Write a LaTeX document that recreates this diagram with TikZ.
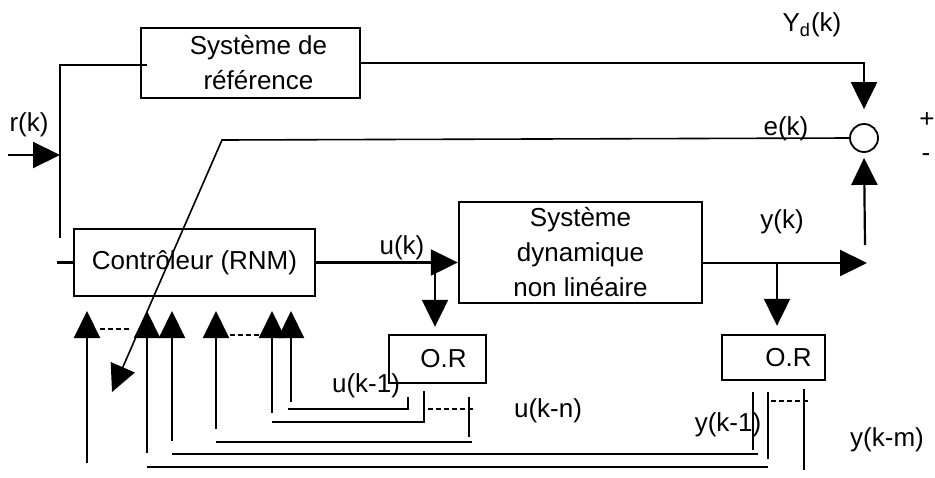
\documentclass[tikz,border=0pt]{standalone}
\usepackage{fontspec}
\setmainfont{Liberation Sans}
\usetikzlibrary{arrows.meta}

\tikzset{
  blok/.style={draw, line width=1.2pt, inner sep=0pt, align=center},
  fleche/.style={-{Triangle[length=13.5pt,width=13pt]}},
  pointille/.style={line width=0.7pt, dash pattern=on 2.5pt off 1.5pt},
}

\begin{document}
\begin{tikzpicture}[x=0.5pt, y=-0.5pt, line width=1.1pt, font=\fontsize{13}{17.5}\selectfont]
\useasboundingbox (0,0) rectangle (935,477);
\node[blok, minimum width=109.5pt, minimum height=35pt] (ref) at (250.5,63) {\hspace*{8pt}Système de\\\hspace*{8pt}référence};
\node[blok, minimum width=120.5pt, minimum height=33.5pt] (ctrl) at (194.5,262.5) {Contrôleur (RNM)};
\node[blok, minimum width=121.5pt, minimum height=50.5pt] (sys) at (580.5,252.5) {Système\\dynamique\\non linéaire};
\node[blok, minimum width=48.5pt, minimum height=24pt] (or1) at (437.5,359) {\hspace*{6pt}O.R};
\node[blok, minimum width=51.5pt, minimum height=22.5pt] (or2) at (773.5,357.5) {\hspace*{15pt}O.R};
\node[draw, circle, line width=0.9pt, minimum size=14pt, inner sep=0pt] (sum) at (864,138) {};

\node (lr) at (29,125) {r(k)};
\node (lyd) at (812,25) {Y\textsubscript{d}(k)};
\node (le) at (786,129) {e(k)};
\node (lplus) at (927,120) {+};
\node (lmoins) at (926,158) {-};
\node (lyk) at (782,222) {y(k)};
\node (luk) at (402,248) {u(k)};
\node (luk1) at (366,386) {u(k-1)};
\node (lukn) at (548,411) {u(k-n)};
\node (lyk1) at (728,425) {y(k-1)};
\node (lykm) at (887,440) {y(k-m)};

\coordinate (rin) at (8,155);
\coordinate (rbus) at (60,155);
\coordinate (ebend) at (222,140);
\coordinate (eend) at (112,392);
\coordinate (yup) at (865,245);
\coordinate (ubr) at (435,262.5);
\coordinate (yk) at (867,263);
\coordinate (ybr) at (777,263);

\draw[fleche] (rin) -- (rbus);
\draw (ref.west) ++(7,2) -- (60,65) -- (60,238);
\draw (ctrl.west) -- ++(-16,0);
\draw[fleche, shorten >=7pt] (ref.east) -| (sum.north);
\draw[fleche, shorten >=2.5pt] (yup) -- (sum.south);
\draw[fleche, line width=0.8pt] (sum.west) -- (ebend) -- (eend);
\draw[fleche] (ctrl.east) -- (sys.west |- ctrl.east);
\draw[fleche, shorten >=3.5pt] (ubr) -- (ubr |- or1.north);
\draw[fleche] (sys.east |- yk) -- (yk);
\draw[fleche, shorten >=4pt] (ybr) -- (ybr |- or2.north);

\foreach \x/\b in {87/463,147/453,172/441,216/429,272/413,291/402}
  \draw[fleche] (\x,\b) -- (\x,311);
\draw (288,409) -- (408,409) -- (408,397);
\draw (272,422) -- (424,422) -- (424,391);
\foreach \x/\y/\e in {216/442/472, 172/454/758, 147/467/768}
  \draw (\x,\y) -- (\e,\y);
\foreach \x/\t/\b in {469/397/437, 753/392/450, 768/392/459, 804/389/470}
  \draw (\x,\t) -- (\x,\b);

\draw[pointille] (100,329) -- (132,329);
\draw[pointille] (230,335) -- (262,335);
\draw[pointille] (428,409) -- (475,409);
\draw[pointille] (771,401) -- (810,401);
\end{tikzpicture}
\end{document}
